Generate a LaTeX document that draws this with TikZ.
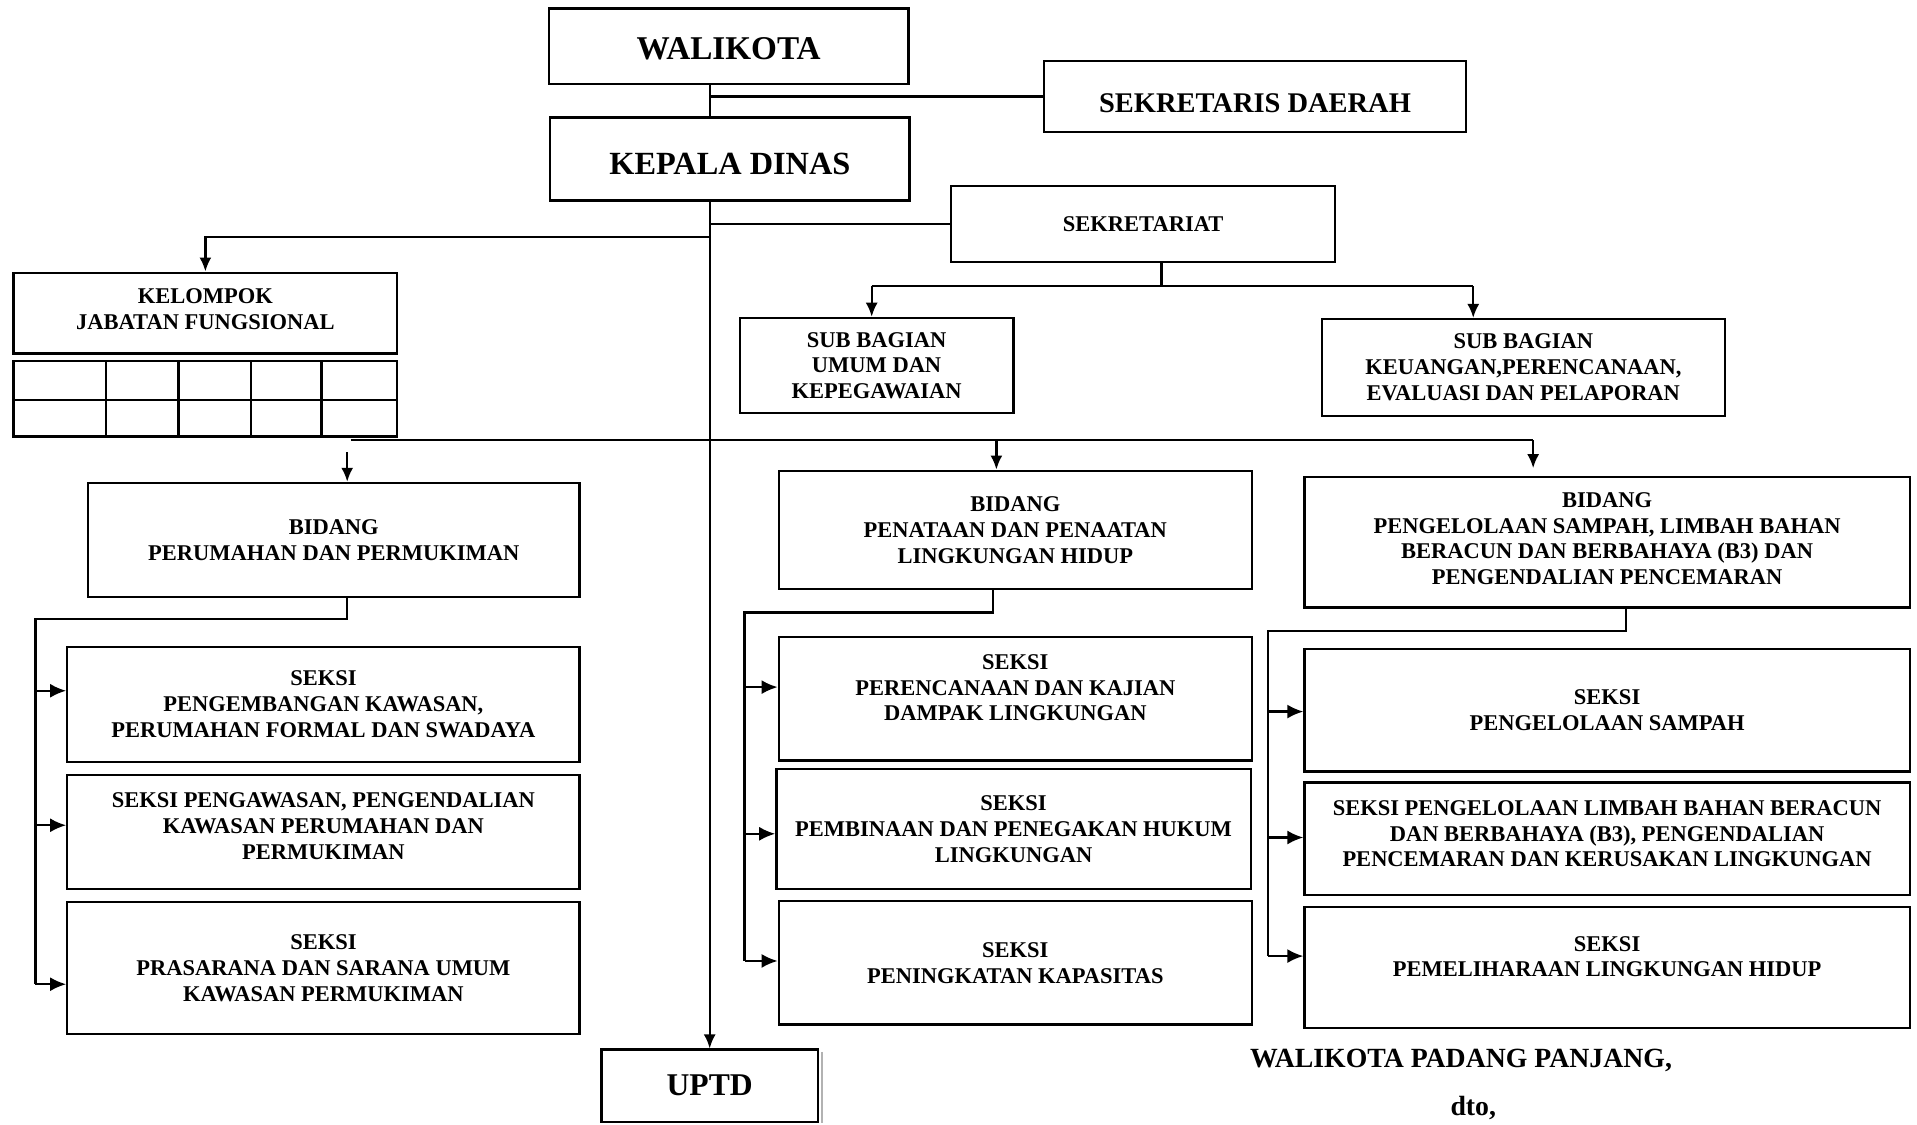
\documentclass[tikz,border=0pt]{standalone}
\usepackage{fontspec}
\setmainfont{Liberation Serif}
\usetikzlibrary{arrows.meta}

\newcommand{\boxfont}{\fontsize{12.8}{14.7}\selectfont\bfseries}
\newcommand{\bigfont}[1]{\fontsize{#1}{#1}\selectfont\bfseries}

\begin{document}
\begin{tikzpicture}[
  orgbox/.style={draw, line width=1.3pt, align=center, inner sep=0pt, font=\boxfont},
  boxtext/.style={align=center, inner sep=0pt, font=\boxfont},
  line/.style={line width=1.3pt},
  arrow/.style={line, -{Latex[length=2.8mm,width=2.4mm]}},
  sidearrow/.style={line, -{Latex[length=3.2mm,width=2.8mm]}},
]
\useasboundingbox (0,0) rectangle (38.34,-22.48);

% pimpinan
\node[orgbox, font=\bigfont{18.9}, minimum width=7.189cm, minimum height=1.516cm] (wk) at (14.574,-0.929) {};
\node[boxtext, font=\bigfont{18.9}] (wkt) at ([yshift=-0.05cm]wk) {WALIKOTA};
\node[orgbox, minimum width=8.436cm, minimum height=1.418cm] (sd) at (25.100,-1.932) {};
\node[boxtext, font=\bigfont{16.2}] (sdt) at ([yshift=-0.13cm]sd) {SEKRETARIS DAERAH};
\node[orgbox, minimum width=7.189cm, minimum height=1.663cm] (kd) at (14.598,-3.179) {};
\node[boxtext, font=\bigfont{18.4}] (kdt) at ([yshift=-0.1cm]kd) {KEPALA DINAS};
\node[orgbox, minimum width=7.678cm, minimum height=1.516cm] (sk) at (22.863,-4.475) {SEKRETARIAT};
\node[orgbox, font=\bigfont{18}, minimum width=4.328cm, minimum height=1.443cm] (up) at (14.194,-21.713) {UPTD};
\draw[gray!60, line width=1.5pt] ([xshift=1.6pt,yshift=-2pt]up.north east) -- ([xshift=1.6pt]up.south east);

% kelompok jabatan fungsional
\node[orgbox, minimum width=7.678cm, minimum height=1.614cm] (kf) at (4.108,-6.260) {};
\node[boxtext] (kft) at ([yshift=0.08cm]kf) {KELOMPOK\\JABATAN FUNGSIONAL};
\draw[line] (0.269,-7.213) rectangle (7.947,-8.729);
\draw[line] (0.269,-7.996) -- (7.947,-7.996);
\foreach \x in {2.127,3.570,5.013,6.431}
  \draw[line] (\x,-7.213) -- (\x,-8.729);

% sub bagian
\node[orgbox, minimum width=5.477cm, minimum height=1.907cm] (su) at (17.532,-7.311) {SUB BAGIAN\\UMUM DAN\\KEPEGAWAIAN};
\node[orgbox, minimum width=8.069cm, minimum height=1.932cm] (sq) at (30.467,-7.348) {SUB BAGIAN\\KEUANGAN,PERENCANAAN,\\EVALUASI DAN PELAPORAN};

% bidang
\node[orgbox, minimum width=9.830cm, minimum height=2.274cm] (bp) at (6.675,-10.796) {BIDANG\\PERUMAHAN DAN PERMUKIMAN};
\node[orgbox, minimum width=9.463cm, minimum height=2.372cm] (bl) at (20.307,-10.600) {BIDANG\\PENATAAN DAN PENAATAN\\LINGKUNGAN HIDUP};
\node[orgbox, minimum width=12.104cm, minimum height=2.616cm] (bs) at (32.142,-10.844) {};
\node[boxtext] (bst) at ([yshift=0.07cm]bs) {BIDANG\\PENGELOLAAN SAMPAH, LIMBAH BAHAN\\BERACUN DAN BERBAHAYA (B3) DAN\\PENGENDALIAN PENCEMARAN};

% seksi
\node[orgbox, minimum width=10.245cm, minimum height=2.298cm] (p1) at (6.468,-14.084) {SEKSI\\PENGEMBANGAN KAWASAN,\\PERUMAHAN FORMAL DAN SWADAYA};
\node[orgbox, minimum width=10.245cm, minimum height=2.274cm] (p2) at (6.468,-16.640) {};
\node[boxtext] (p2t) at ([yshift=0.12cm]p2) {SEKSI PENGAWASAN, PENGENDALIAN\\KAWASAN PERUMAHAN DAN\\PERMUKIMAN};
\node[orgbox, minimum width=10.245cm, minimum height=2.641cm] (p3) at (6.468,-19.366) {SEKSI\\PRASARANA DAN SARANA UMUM\\KAWASAN PERMUKIMAN};

\node[orgbox, minimum width=9.463cm, minimum height=2.470cm] (l1) at (20.307,-13.974) {};
\node[boxtext] (l1t) at ([yshift=0.22cm]l1) {SEKSI\\PERENCANAAN DAN KAJIAN\\DAMPAK LINGKUNGAN};
\node[orgbox, minimum width=9.487cm, minimum height=2.396cm] (l2) at (20.271,-16.578) {SEKSI\\PEMBINAAN DAN PENEGAKAN HUKUM\\LINGKUNGAN};
\node[orgbox, minimum width=9.463cm, minimum height=2.470cm] (l3) at (20.307,-19.256) {SEKSI\\PENINGKATAN KAPASITAS};

\node[orgbox, minimum width=12.104cm, minimum height=2.445cm] (s1) at (32.142,-14.207) {SEKSI\\PENGELOLAAN SAMPAH};
\node[orgbox, minimum width=12.104cm, minimum height=2.250cm] (s2) at (32.142,-16.774) {};
\node[boxtext] (s2t) at ([yshift=0.1cm]s2) {SEKSI PENGELOLAAN LIMBAH BAHAN BERACUN\\DAN BERBAHAYA (B3), PENGENDALIAN\\PENCEMARAN DAN KERUSAKAN LINGKUNGAN};
\node[orgbox, minimum width=12.104cm, minimum height=2.421cm] (s3) at (32.142,-19.354) {};
\node[boxtext] (s3t) at ([yshift=0.22cm]s3) {SEKSI\\PEMELIHARAAN LINGKUNGAN HIDUP};

% garis pimpinan
\draw[line] (wk.south -| up.north) -- (kd.north -| up.north);
\draw[line] (sd.west) -- (sd.west -| up.north);
\draw[arrow] (kd.south -| up.north) -- (up.north);
\draw[line] (sk.west) -- (sk.west -| up.north);
\coordinate (kj) at (14.194,-4.744);
\draw[arrow] (kj) -| (kf.north);

% garis sekretariat
\coordinate (sj) at (23.229,-5.722);
\coordinate (sa) at (17.434,-5.722);
\coordinate (sb) at (29.465,-5.722);
\draw[line] (sk.south -| sj) -- (sj);
\draw[line] (sa) -- (sb);
\draw[arrow] (sa) -- (sa |- su.north);
\draw[arrow] (sb) -- (sb |- sq.north);

% garis bidang
\coordinate (ba) at (7.018,-8.803);
\coordinate (bb) at (30.663,-8.803);
\coordinate (b1) at (6.944,-9.047);
\coordinate (b2) at (19.928,-8.803);
\draw[line] (ba) -- (bb);
\draw[arrow] (b1) -- (b1 |- bp.north);
\draw[arrow] (b2) -- (b2 |- bl.north);
\draw[arrow] (bb) -- ([yshift=0.15cm]bb |- bs.north);

% garis seksi
\foreach \n/\y in {p1/-13.815,p2/-16.505,p3/-19.684}{
  \coordinate (\n-in) at (0.709,\y);
  \draw[sidearrow] (\n-in) -- (\n-in -| \n.west);
}
\coordinate (pa) at (0.709,-12.373);
\draw[line] (bp.south -| b1) |- (pa) -- (p3-in);

\foreach \n/\y in {l1/-13.742,l2/-16.676,l3/-19.219}{
  \coordinate (\n-in) at (14.891,\y);
  \draw[sidearrow] (\n-in) -- (\n-in -| \n.west);
}
\coordinate (la) at (14.891,-12.250);
\draw[line] (bl.south -| 19.855,0) |- (la) -- (l3-in);

\foreach \n/\y in {s1/-14.231,s2/-16.750,s3/-19.121}{
  \coordinate (\n-in) at (25.357,\y);
  \draw[sidearrow] (\n-in) -- (\n-in -| \n.west);
}
\coordinate (ra) at (25.357,-12.617);
\draw[line] (bs.south -| 32.521,0) |- (ra) -- (s3-in);

% pengesahan
\node[font=\bigfont{15.8}] (ttd) at (29.220,-21.200) {WALIKOTA PADANG PANJANG,};
\node[font=\bigfont{15.8}] (dto) at (29.465,-22.150) {dto,};

\end{tikzpicture}
\end{document}
